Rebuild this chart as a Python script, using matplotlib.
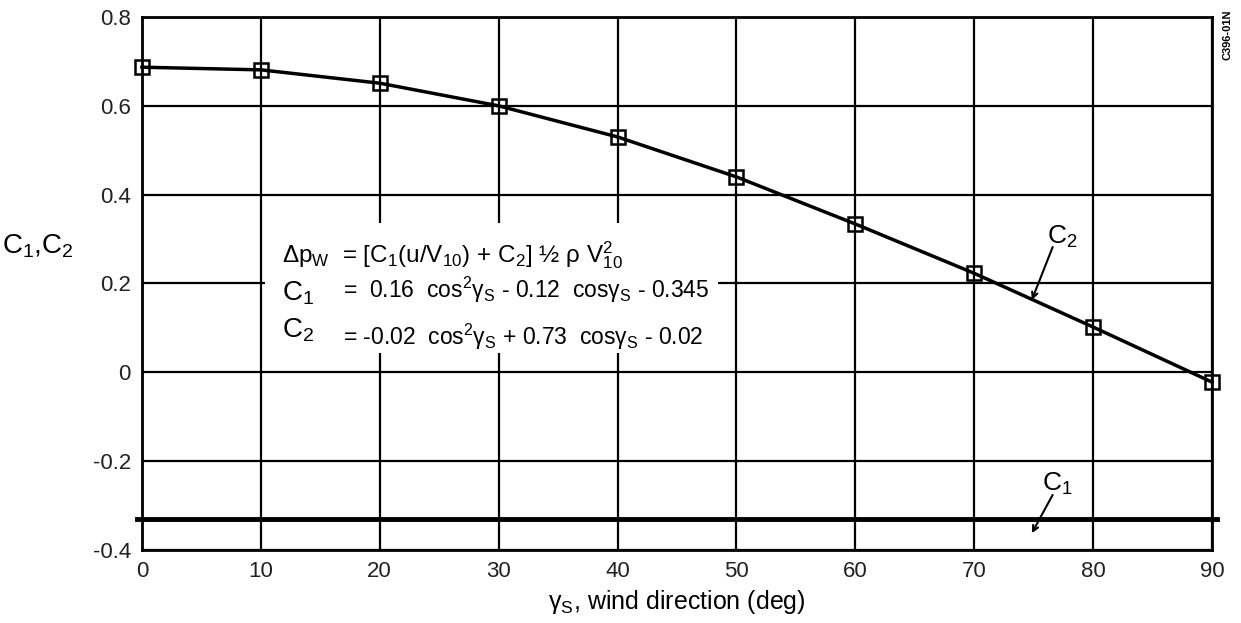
import numpy as np
import matplotlib
matplotlib.use("Agg")
import matplotlib.pyplot as plt
from matplotlib.patches import Rectangle

plt.rcParams['font.family'] = ['Liberation Sans', 'DejaVu Sans']
plt.rcParams['mathtext.fontset'] = 'custom'
plt.rcParams['mathtext.rm'] = 'Liberation Sans'
plt.rcParams['mathtext.it'] = 'Liberation Sans:italic'
plt.rcParams['mathtext.bf'] = 'Liberation Sans:bold'

# data
gamma_s = [0, 10, 20, 30, 40, 50, 60, 70, 80, 90]
c2_vals = [0.687, 0.681, 0.651, 0.600, 0.530, 0.440, 0.334, 0.223, 0.102, -0.022]
c1_level = -0.33

x_ticks = [0, 10, 20, 30, 40, 50, 60, 70, 80, 90]
y_ticks = [-0.4, -0.2, 0.0, 0.2, 0.4, 0.6, 0.8]
y_labels = ['-0.4', '-0.2', '0', '0.2', '0.4', '0.6', '0.8']

fig = plt.figure(figsize=(12.41, 6.23), dpi=100)
ax = fig.add_axes([0.1144, 0.1172, 0.8622, 0.8555])

ax.set_xlim(0, 90)
ax.set_ylim(-0.4, 0.8)
ax.set_xticks(x_ticks)
ax.set_xticklabels([str(v) for v in x_ticks])
ax.set_yticks(y_ticks)
ax.set_yticklabels(y_labels)
ax.tick_params(length=0, labelsize=16, colors='#222222')
ax.tick_params(axis='x', pad=8)
ax.tick_params(axis='y', pad=8)
ax.grid(True, color='black', lw=1.6, zorder=1)
ax.set_axisbelow(True)
for s in ax.spines.values():
    s.set_linewidth(2)

# C2 curve
ax.plot(gamma_s, c2_vals, color='black', lw=2.5, marker='s', ms=10,
        mfc='none', mec='black', mew=1.8, zorder=4, clip_on=False)

# C1 constant line (extends a bit past the frame)
ax.axhline(c1_level, xmin=-0.005, xmax=1.005, color='black', lw=3.5,
           clip_on=False, zorder=4)

# white box behind the formula block
ax.add_patch(Rectangle((0.115, 0.370), 0.423, 0.243, transform=ax.transAxes,
                       facecolor='white', edgecolor='none', zorder=2))

ax.text(0.131, 0.553,
        r'Δp$_{\rm W}$  = [C$_1$(u/V$_{10}$) + C$_2$] ½ ρ V$_{10}^2$',
        transform=ax.transAxes, fontsize=17.5, va='center', ha='left', zorder=5)
ax.text(0.131, 0.482, r'C$_1$', transform=ax.transAxes, fontsize=20,
        va='center', ha='left', zorder=5)
ax.text(0.188, 0.488,
        r'=  0.16  cos$^2$γ$_{\rm S}$ - 0.12  cosγ$_{\rm S}$ - 0.345',
        transform=ax.transAxes, fontsize=16.5, va='center', ha='left', zorder=5)
ax.text(0.131, 0.412, r'C$_2$', transform=ax.transAxes, fontsize=20,
        va='center', ha='left', zorder=5)
ax.text(0.188, 0.400,
        r'= -0.02  cos$^2$γ$_{\rm S}$ + 0.73  cosγ$_{\rm S}$ - 0.02',
        transform=ax.transAxes, fontsize=16.5, va='center', ha='left', zorder=5)

# curve labels
ax.text(77.4, 0.305, r'C$_2$', fontsize=19, ha='center', va='center', zorder=6)
ax.annotate('', xy=(74.85, 0.163), xytext=(76.6, 0.282), zorder=6,
            arrowprops=dict(arrowstyle='->', color='black', lw=1.5,
                            shrinkA=0, shrinkB=0))
ax.text(77.0, -0.252, r'C$_1$', fontsize=19, ha='center', va='center', zorder=6)
ax.annotate('', xy=(74.85, -0.362), xytext=(76.6, -0.276), zorder=6,
            arrowprops=dict(arrowstyle='->', color='black', lw=1.5,
                            shrinkA=0, shrinkB=0))

ax.set_xlabel(r'γ$_{\rm S}$, wind direction (deg)', fontsize=18, labelpad=4)
fig.text(0.002, 0.605, r'C$_1$,C$_2$', fontsize=20, ha='left', va='center')

fig.text(0.989, 0.985, 'C396-01N', rotation=90, fontsize=8, fontweight='bold',
         ha='center', va='top')

fig.savefig('out.png', dpi=100)
